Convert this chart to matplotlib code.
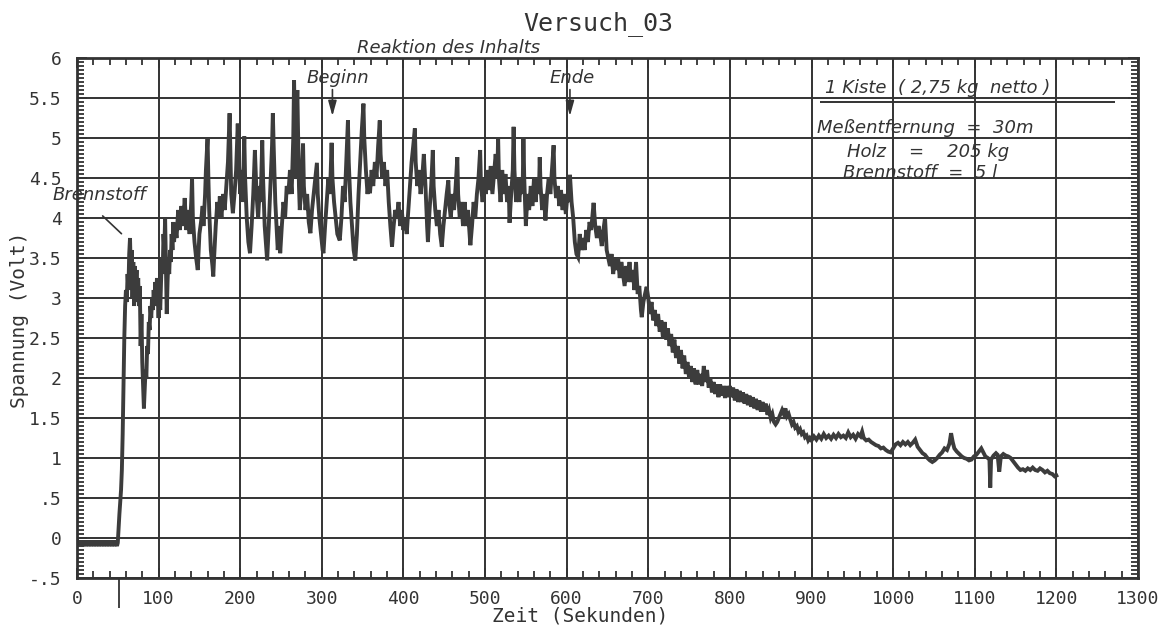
import matplotlib
matplotlib.use('Agg')
import matplotlib.pyplot as plt
from matplotlib.ticker import MultipleLocator

zeit = [
    0, 1, 2, 3, 4, 5, 6, 7, 8, 9, 10, 11, 12, 13, 14, 15, 16, 17, 18, 19, 20, 21, 22, 23, 24, 25,
    26, 27, 28, 29, 30, 31, 32, 33, 34, 35, 36, 37, 38, 39, 40, 41, 42, 43, 44, 45, 46, 47, 48, 49, 50,
    52, 54, 55, 56, 57, 58, 59, 60, 61, 62, 63, 64, 65, 66, 67, 68, 69, 70, 71, 72, 73, 74, 75, 76, 77, 78, 79,
    80, 81, 82, 83, 84, 85, 86, 87, 88, 89, 90, 91, 92, 93, 94, 95, 96, 97, 98, 99, 100, 101, 102, 103, 104,
    105, 106, 107, 108, 109, 110, 111, 112, 113, 114, 115, 116, 117, 118, 119, 120, 122, 124, 126, 128, 130,
    132, 134, 136, 138, 140, 141, 142, 144, 146, 148, 150, 152, 154, 155, 157, 158, 160, 161, 162, 164, 166,
    167, 168, 170, 172, 174, 175, 177, 179, 181, 183, 185, 187, 188, 189, 191, 193, 195, 197, 198, 200, 202,
    203, 205, 206, 208, 210, 212, 214, 216, 218, 220, 222, 224, 225, 227, 228, 230, 232, 233, 235, 237, 239,
    240, 241, 243, 245, 246, 248, 249, 251, 253, 255, 257, 259, 261, 263, 265, 266, 267, 268, 269, 270, 271,
    272, 273, 275, 277, 278, 280, 282, 284, 286, 288, 290, 292, 294, 295, 297, 299, 301, 302, 304, 306, 308,
    310, 312, 313, 315, 317, 319, 322, 324, 326, 328, 330, 332, 333, 335, 337, 339, 341, 343, 345, 347, 349,
    351, 352, 354, 356, 358, 359, 361, 363, 365, 367, 369, 371, 372, 374, 376, 378, 380, 382, 384, 386, 388,
    390, 392, 394, 396, 398, 400, 402, 404, 406, 408, 410, 412, 414, 415, 417, 419, 421, 423, 425, 427, 429,
    430, 432, 434, 436, 437, 439, 441, 443, 445, 447, 449, 451, 453, 455, 456, 458, 460, 462, 464, 466, 467,
    469, 471, 473, 475, 477, 479, 481, 482, 484, 486, 488, 490, 492, 494, 495, 497, 499, 501, 503, 505, 507,
    509, 511, 513, 515, 516, 517, 519, 521, 523, 525, 527, 529, 530, 532, 534, 535, 536, 538, 540, 542, 544,
    546, 547, 548, 550, 552, 554, 556, 558, 560, 562, 564, 566, 567, 568, 570, 572, 574, 576, 578, 580, 582,
    584, 585, 587, 589, 591, 593, 595, 597, 599, 601, 603, 604, 606, 608, 610, 612, 614, 616, 618, 620, 622,
    624, 626, 628, 630, 633, 635, 637, 639, 641, 643, 645, 647, 649, 651, 653, 655, 657, 659, 661, 663, 665,
    667, 669, 671, 673, 675, 677, 679, 681, 683, 685, 687, 689, 691, 692, 694, 696, 698, 700, 702, 704, 706,
    708, 710, 712, 714, 716, 718, 720, 722, 724, 726, 728, 730, 732, 734, 736, 738, 740, 742, 744, 746, 748,
    750, 752, 754, 756, 758, 760, 762, 764, 766, 768, 770, 772, 774, 776, 778, 780, 782, 784, 786, 788, 790,
    792, 794, 796, 798, 800, 802, 804, 806, 808, 810, 812, 814, 816, 818, 820, 822, 824, 826, 828, 830, 832,
    834, 836, 838, 840, 842, 844, 846, 848, 850, 852, 854, 856, 858, 860, 862, 864, 866, 868, 870, 872, 874,
    876, 878, 880, 882, 884, 886, 888, 890, 892, 894, 896, 898, 900, 903, 906, 909, 912, 915, 918, 921, 924,
    927, 930, 933, 936, 939, 942, 945, 948, 951, 954, 957, 960, 962, 964, 967, 970, 973, 976, 979, 982, 985,
    988, 991, 994, 997, 1000, 1003, 1006, 1009, 1012, 1015, 1018, 1021, 1024, 1027, 1030, 1033, 1036, 1039,
    1042, 1045, 1048, 1051, 1054, 1057, 1060, 1063, 1066, 1069, 1071, 1073, 1075, 1078, 1081, 1084, 1087,
    1090, 1093, 1096, 1099, 1102, 1105, 1108, 1110, 1113, 1116, 1118, 1119, 1120, 1123, 1126, 1128, 1130,
    1132, 1135, 1138, 1141, 1144, 1147, 1150, 1153, 1156, 1159, 1162, 1165, 1168, 1171, 1174, 1177, 1180,
    1183, 1186, 1189, 1192, 1195, 1198, 1200,
]
spannung = [
    -0.03, -0.1, -0.03, -0.1, -0.03, -0.1, -0.03, -0.1, -0.03, -0.1, -0.03, -0.1, -0.03, -0.1, -0.03,
    -0.1, -0.03, -0.1, -0.03, -0.1, -0.03, -0.1, -0.03, -0.1, -0.03, -0.1, -0.03, -0.1, -0.03, -0.1,
    -0.03, -0.1, -0.03, -0.1, -0.03, -0.1, -0.03, -0.1, -0.03, -0.1, -0.03, -0.1, -0.03, -0.1, -0.03,
    -0.1, -0.03, -0.1, -0.03, -0.1, -0.06,
    0.3, 0.6, 0.85, 1.3, 1.9, 2.5, 2.9, 3.1, 2.95, 3.3, 3.1, 3.55, 3.75, 3.3, 3.6, 3.0, 3.45, 2.9, 3.4, 3.1,
    3.35, 2.95, 3.25, 2.9, 3.15, 2.4, 2.8,
    2.2, 1.9, 1.62, 1.85, 2.1, 2.0, 2.4, 2.3, 2.7, 2.6, 2.9, 2.75, 3.0, 2.85, 3.1, 2.9, 3.2, 2.95, 3.25, 3.0,
    2.75, 3.05, 2.85, 3.2, 3.5,
    3.3, 3.8, 3.6, 4.0, 3.4, 2.8, 3.2, 3.5, 3.3, 3.6, 3.45, 3.8, 3.6, 3.95, 3.7, 3.9, 3.75, 4.1, 3.85, 4.15,
    3.9,
    4.25, 3.85, 4.1, 3.8, 4.2, 4.5, 4.0, 3.7, 3.5, 3.35, 3.8, 3.95, 4.15, 3.9, 4.3, 4.6, 5.0, 4.5, 4.1, 3.6,
    3.4,
    3.27, 3.5, 3.9, 4.2, 4.0, 4.27, 4.0, 4.3, 4.1, 4.4, 4.7, 5.31, 4.8, 4.3, 4.06, 4.3, 4.6, 5.18, 4.8, 4.3,
    4.6,
    4.2, 5.02, 4.5, 4.0, 3.7, 3.56, 3.9, 4.3, 4.85, 4.3, 4.0, 4.4, 4.2, 4.97, 4.5, 3.9, 3.6, 3.47, 3.9, 4.4,
    4.9,
    5.31, 4.9, 4.2, 3.8, 3.6, 3.9, 3.56, 3.9, 4.2, 4.0, 4.4, 4.3, 4.6, 4.3, 5.0, 5.72, 5.1, 4.5, 5.2, 5.6,
    5.0,
    4.4, 4.1, 4.4, 4.93, 4.4, 4.1, 4.3, 3.95, 3.81, 4.1, 4.3, 4.5, 4.69, 4.3, 4.0, 3.8, 3.6, 3.56, 3.9, 4.2,
    4.5,
    4.3, 4.94, 4.5, 4.2, 4.0, 3.8, 3.72, 4.0, 4.4, 4.2, 4.7, 5.22, 4.7, 4.2, 3.9, 3.6, 3.47, 3.8, 4.3, 4.7,
    5.1,
    5.43, 5.0, 4.6, 4.3, 4.5, 4.31, 4.6, 4.4, 4.7, 4.5, 4.9, 5.22, 4.8, 4.5, 4.7, 4.4, 4.6, 4.2, 3.9, 3.64,
    3.9,
    4.1, 4.0, 4.2, 3.9, 4.1, 3.85, 4.0, 3.8, 4.1, 4.4, 4.7, 4.9, 5.12, 4.7, 4.4, 4.6, 4.3, 4.5, 4.8, 4.4,
    3.9,
    3.7, 4.1, 4.4, 4.85, 4.4, 4.1, 3.9, 4.1, 3.8, 3.64, 3.9, 4.1, 4.3, 4.47, 4.2, 4.0, 4.3, 4.1, 4.4, 4.76,
    4.3,
    4.0, 4.2, 3.9, 4.2, 3.9, 4.1, 3.8, 3.66, 3.9, 4.2, 4.0, 4.3, 4.5, 4.85, 4.4, 4.2, 4.5, 4.3, 4.6, 4.35,
    4.65,
    4.3, 4.55, 4.8, 4.5, 5.01, 4.5, 4.2, 4.6, 4.3, 4.55, 4.2, 4.4, 3.94, 4.3, 4.6, 5.14, 4.6, 4.2, 4.5, 4.2,
    4.5,
    4.3, 5.01, 4.5, 3.9, 4.3, 4.1, 4.4, 4.15, 4.5, 4.2, 4.5, 4.3, 4.76, 4.4, 4.1, 4.3, 3.97, 4.3, 4.5, 4.3,
    4.6,
    4.91, 4.5, 4.25, 4.4, 4.15, 4.35, 4.1, 4.3, 4.05, 4.3, 4.2, 4.54, 4.2, 4.0, 3.7, 3.55, 3.51, 3.8, 3.6,
    3.75, 3.6,
    3.85, 3.7, 3.95, 3.85, 4.19, 3.9, 3.75, 3.9, 3.8, 3.65, 3.85, 4.0, 3.6, 3.5, 3.4, 3.55, 3.3, 3.5, 3.35,
    3.5, 3.25,
    3.45, 3.3, 3.15, 3.4, 3.2, 3.45, 3.2, 3.35, 3.1, 3.45, 3.05, 3.15, 2.85, 2.76, 2.95, 3.05, 3.14, 3.0,
    2.8, 2.95, 2.72,
    2.85, 2.65, 2.8, 2.58, 2.72, 2.5, 2.7, 2.48, 2.62, 2.4, 2.55, 2.32, 2.48, 2.25, 2.4, 2.18, 2.35, 2.12,
    2.28, 2.05, 2.2,
    2.0, 2.15, 1.95, 2.12, 1.92, 2.1, 1.92, 2.05, 1.9, 2.15, 1.95, 2.1, 1.88, 2.0, 1.82, 1.95, 1.8, 1.92,
    1.76, 1.92, 1.78,
    1.9, 1.75, 1.9, 1.76, 1.9, 1.76, 1.88, 1.72, 1.86, 1.7, 1.84, 1.7, 1.82, 1.68, 1.8, 1.66, 1.78, 1.64,
    1.76, 1.62, 1.74,
    1.6, 1.72, 1.58, 1.7, 1.58, 1.68, 1.54, 1.6, 1.5, 1.55, 1.45, 1.42, 1.45, 1.5, 1.55, 1.6, 1.55, 1.62,
    1.52, 1.55, 1.48,
    1.42, 1.45, 1.38, 1.4, 1.33, 1.36, 1.3, 1.32, 1.26, 1.28, 1.22, 1.25, 1.22, 1.27, 1.23, 1.28, 1.24, 1.3,
    1.25, 1.28, 1.24,
    1.29, 1.25, 1.3, 1.26, 1.28, 1.25, 1.32, 1.26, 1.29, 1.24, 1.3, 1.27, 1.33, 1.25, 1.22, 1.23, 1.2, 1.18,
    1.16, 1.15, 1.12,
    1.13, 1.1, 1.08, 1.07, 1.12, 1.17, 1.19, 1.16, 1.2, 1.17, 1.2, 1.16, 1.19, 1.23, 1.14, 1.1, 1.06, 1.04,
    1.0, 0.97, 0.95, 0.97, 1.0, 1.04, 1.07, 1.12, 1.1, 1.18, 1.31, 1.2, 1.12, 1.08, 1.05, 1.02, 1.0,
    0.99, 0.97, 0.98, 1.02, 1.04, 1.08, 1.12, 1.08, 1.02, 1.0, 0.98, 0.63, 0.98, 1.03, 1.06, 1.04, 0.83,
    1.02, 1.05, 1.03, 1.02, 1.0, 0.96, 0.92, 0.88, 0.85, 0.86, 0.84, 0.87, 0.85, 0.88, 0.85, 0.84, 0.87,
    0.85, 0.82, 0.84, 0.81, 0.8, 0.77, 0.78,
]

x_ticks = list(range(0, 1301, 100))
x_labels = [str(t) for t in x_ticks]
y_ticks = [-0.5, 0, 0.5, 1, 1.5, 2, 2.5, 3, 3.5, 4, 4.5, 5, 5.5, 6]
y_labels = ['-.5', '0', '.5', '1', '1.5', '2', '2.5', '3', '3.5', '4', '4.5', '5', '5.5', '6']

ink = '#333333'
mono = 'DejaVu Sans Mono'

fig = plt.figure(figsize=(11.68, 6.26), dpi=100)
ax = fig.add_axes([0.0659, 0.0767, 0.9084, 0.8306])

ax.plot(zeit, spannung, color='#3c3c3c', linewidth=2.8, solid_joinstyle='miter')

ax.set_xlim(0, 1300)
ax.set_ylim(-0.5, 6)
ax.set_xticks(x_ticks)
ax.set_xticklabels(x_labels, family=mono, fontsize=13, color=ink)
ax.set_yticks(y_ticks)
ax.set_yticklabels(y_labels, family=mono, fontsize=13, color=ink)
ax.xaxis.set_minor_locator(MultipleLocator(20))
ax.yaxis.set_minor_locator(MultipleLocator(0.05))
ax.tick_params(which='both', direction='in', top=True, right=True, color=ink, width=1.3)
ax.tick_params(which='major', length=7)
ax.tick_params(axis='x', which='major', pad=9)
ax.tick_params(axis='y', which='major', pad=11)
ax.tick_params(which='minor', length=5)
ax.grid(True, which='major', color=ink, linewidth=1.4)
for s in ax.spines.values():
    s.set_linewidth(2)
    s.set_color(ink)

fig.text(598 / 1168, 1 - 24 / 626, 'Versuch_03', family=mono, fontsize=18,
         ha='center', va='center', color=ink)
fig.text(580 / 1168, 1 - 616 / 626, 'Zeit (Sekunden)', family=mono, fontsize=14,
         ha='center', va='center', color=ink)
fig.text(20 / 1168, 1 - 320 / 626, 'Spannung (Volt)', family=mono, fontsize=14,
         ha='center', va='center', rotation=90, color=ink)

# Markierungen im Diagramm
ital = dict(style='italic', color=ink, fontsize=13)
ax.text(28, 4.29, 'Brennstoff', ha='center', va='center', clip_on=False, **ital)
ax.annotate('', xy=(57, 3.78), xytext=(29, 4.05),
            arrowprops=dict(arrowstyle='-', color=ink, linewidth=1.2))
ax.text(455, 6.13, 'Reaktion des Inhalts', ha='center', va='center', clip_on=False, **ital)
ax.text(320, 5.75, 'Beginn', ha='center', va='center', **ital)
ax.annotate('', xy=(313, 5.24), xytext=(313, 5.64),
            arrowprops=dict(arrowstyle='-|>,head_length=0.9,head_width=0.25', color=ink, linewidth=1.2))
ax.text(607, 5.75, 'Ende', ha='center', va='center', **ital)
ax.annotate('', xy=(604, 5.24), xytext=(604, 5.64),
            arrowprops=dict(arrowstyle='-|>,head_length=0.9,head_width=0.25', color=ink, linewidth=1.2))

ax.text(917, 5.62, '1 Kiste  ( 2,75 kg  netto )', ha='left', va='center', **ital)
ax.hlines(5.45, 910, 1272, color=ink, linewidth=1.4)
ax.text(907, 5.13, 'Meßentfernung  =  30m', ha='left', va='center', **ital)
ax.text(944, 4.82, 'Holz    =    205 kg', ha='left', va='center', **ital)
ax.text(938, 4.56, 'Brennstoff  =  5 l', ha='left', va='center', **ital)

# Zündzeitpunkt unterhalb der Achse
ax.vlines(51, -0.5, -0.88, color=ink, linewidth=1.3, clip_on=False)

fig.savefig('out.png', dpi=100, facecolor='white')
